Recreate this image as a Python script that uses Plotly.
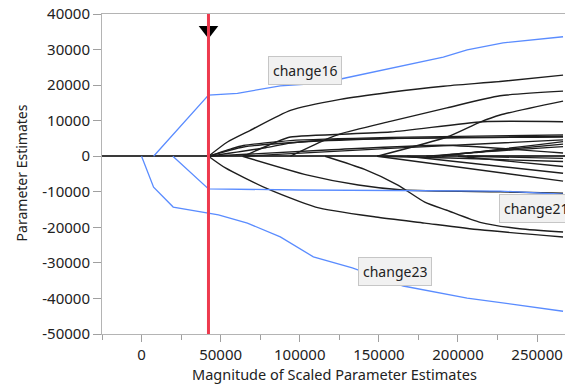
import plotly.graph_objects as go

# ---- axis ticks ----
x_tick_vals = [0, 50000, 100000, 150000, 200000, 250000]
x_tick_text = ["0", "50000", "100000", "150000", "200000", "250000"]
x_minor_vals = [-25000, 25000, 75000, 125000, 175000, 225000]
y_tick_vals = [40000, 30000, 20000, 10000, 0, -10000, -20000, -30000, -40000, -50000]
y_tick_text = ["40000", "30000", "20000", "10000", "0", "-10000", "-20000", "-30000", "-40000", "-50000"]
x_title = "Magnitude of Scaled Parameter Estimates"
y_title = "Parameter Estimates"

# ---- highlighted (blue) paths ----
change16_x = [7600, 42300, 60600, 87700, 115000, 128800, 190700, 205800, 228500, 266400]
change16_y = [0, 17200, 17700, 19800, 20600, 22000, 27900, 29900, 31900, 33600]
change21_x = [19800, 42300, 100000, 200000, 226600, 266400]
change21_y = [0, -9200, -9500, -9600, -9800, -10700]
change23_x = [0, 7600, 20000, 42300, 48600, 66900, 87700, 108600, 133200, 165400, 205800, 266400]
change23_y = [0, -8700, -14300, -16000, -16500, -18800, -22700, -28300, -31400, -36500, -39900, -43600]

# ---- other (black) paths ----
a_x = [42300, 54300, 68800, 94100, 125600, 157200, 190700, 226600, 266400]
a_y = [0, 4000, 7300, 12900, 16000, 18000, 19700, 21000, 22800]
b_x = [94100, 117000, 125600, 157200, 193000, 226600, 266400]
b_y = [0, 4800, 6300, 9800, 13600, 17000, 18300]
c_x = [149000, 193000, 214000, 226600, 266400]
c_y = [0, 5400, 9600, 11600, 15500]
d_x = [64400, 85000, 94100, 157200, 216000, 266400]
d_y = [0, 4000, 5400, 6800, 9700, 9700]
e1_x = [42300, 56200, 64400, 94100, 157200, 266400]
e1_y = [0, 2000, 3000, 4400, 5300, 6000]
e2_x = [42300, 64400, 100400, 157200, 266400]
e2_y = [0, 2600, 4000, 5000, 5600]
e3_x = [42300, 78300, 94100, 125600, 266400]
e3_y = [0, 2400, 3700, 4700, 5400]
f1_x = [42300, 120000, 190700, 266400]
f1_y = [0, 1800, 3100, 900]
f2_x = [180000, 205800, 266400]
f2_y = [0, 900, 4100]
f3_x = [185000, 205800, 266400]
f3_y = [0, 900, 3400]
f4_x = [190000, 210000, 266400]
f4_y = [0, 1000, 2700]
f5_x = [64400, 157200, 266400]
f5_y = [0, 2200, 4600]
n1_x = [149000, 195000, 266400]
n1_y = [0, -500, -1500]
n2_x = [205800, 266400]
n2_y = [0, -600]
n3_x = [200000, 266400]
n3_y = [0, -2900]
n4_x = [149000, 266400]
n4_y = [0, -7000]
n5_x = [167900, 266400]
n5_y = [0, -4800]
l1_x = [63800, 105000, 137000, 165000, 226600, 266400]
l1_y = [0, -5300, -8100, -9500, -10000, -10400]
l2_x = [116000, 141000, 162000, 179000, 193000, 214000, 239000, 266400]
l2_y = [0, -3700, -8100, -12900, -15200, -18600, -20400, -21300]
l3_x = [42300, 53000, 78300, 110000, 148000, 179000, 214000, 266400]
l3_y = [0, -3300, -8900, -14300, -17100, -18800, -20700, -22700]

# ---- selected step ----
selected_x = 42300
marker_y = 35400

# ---- labels ----
label_text = ["change16", "change21", "change23"]
label_x = [103500, 226000, 160300]
label_y = [24200, -14600, -32300]

BLACK = "#1e1e1e"
BLUE = "#5a8cff"

fig = go.Figure()

black_paths = [(a_x, a_y), (b_x, b_y), (c_x, c_y), (d_x, d_y), (e1_x, e1_y), (e2_x, e2_y),
               (e3_x, e3_y), (f1_x, f1_y), (f2_x, f2_y), (f3_x, f3_y), (f4_x, f4_y), (f5_x, f5_y),
               (n1_x, n1_y), (n2_x, n2_y), (n3_x, n3_y), (n4_x, n4_y), (n5_x, n5_y),
               (l1_x, l1_y), (l2_x, l2_y), (l3_x, l3_y)]
for px, py in black_paths:
    fig.add_trace(go.Scatter(x=px, y=py, mode="lines",
                             line=dict(color=BLACK, width=1.4, shape="spline", smoothing=0.6),
                             showlegend=False, hoverinfo="skip"))

for px, py in [(change16_x, change16_y), (change21_x, change21_y), (change23_x, change23_y)]:
    fig.add_trace(go.Scatter(x=px, y=py, mode="lines", line=dict(color=BLUE, width=1.3),
                             showlegend=False, hoverinfo="skip"))

# selected-step red line
fig.add_shape(type="line", xref="x", yref="paper", x0=selected_x, x1=selected_x, y0=0, y1=1,
              line=dict(color="#ee3a4e", width=3))
fig.add_trace(go.Scatter(x=[selected_x], y=[marker_y], mode="markers",
                         marker=dict(symbol="triangle-down", size=17, color="black"),
                         showlegend=False, hoverinfo="skip", cliponaxis=False))

for t, lx, ly in zip(label_text, label_x, label_y):
    anchor = "left" if t == "change21" else "center"
    fig.add_annotation(x=lx, y=ly, xref="x", yref="y", text=t, showarrow=False,
                       xanchor=anchor, yanchor="middle",
                       font=dict(family="Noto Sans", size=14, color="#222"),
                       bgcolor="#f1f1f1", bordercolor="#c6c6c6", borderwidth=1, borderpad=4)

# axis titles placed as text (paper coordinates)
fig.add_annotation(x=0.4926, y=-0.125, xref="paper", yref="paper", text=x_title,
                   showarrow=False, xanchor="center", yanchor="middle",
                   font=dict(family="Noto Sans", size=14.5, color="#222"))
fig.add_annotation(x=-0.172, y=0.505, xref="paper", yref="paper", text=y_title,
                   showarrow=False, xanchor="center", yanchor="middle", textangle=-90,
                   font=dict(family="Noto Sans", size=14, color="#222"))

# page body has an 8px margin, so the figure is 8px smaller and offsets are reduced by 8
fig.update_layout(
    width=565, height=376,
    margin=dict(l=94, r=0, t=6, b=50, autoexpand=False),
    paper_bgcolor="white", plot_bgcolor="white",
    font=dict(family="Noto Sans", size=15, color="#222"),
    xaxis=dict(range=[-25000, 272700], tickvals=x_tick_vals, ticktext=x_tick_text,
               ticks="outside", ticklen=7, tickcolor="#a0a0a0", automargin=False,
               ticklabeloverflow="allow",
               minor=dict(tickvals=x_minor_vals, ticks="outside", ticklen=5, tickcolor="#a0a0a0"),
               showline=True, linecolor="#b4b4b4", mirror=True, showgrid=False, zeroline=False),
    yaxis=dict(range=[-50000, 40000], tickvals=y_tick_vals, ticktext=y_tick_text,
               ticks="outside", ticklen=8, tickcolor="#a0a0a0", automargin=False,
               ticklabeloverflow="allow",
               showline=True, linecolor="#b4b4b4", showgrid=False,
               zeroline=True, zerolinecolor="#3a3a3a", zerolinewidth=1.5),
)

fig.write_html("out.html")
